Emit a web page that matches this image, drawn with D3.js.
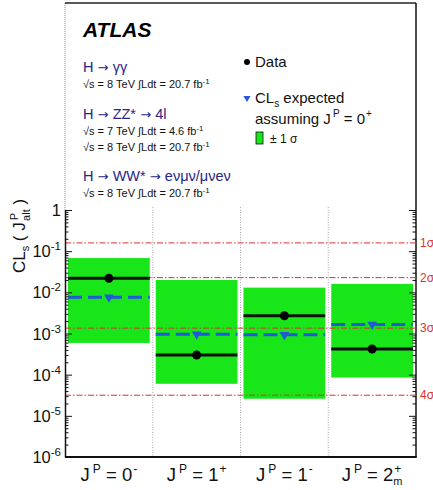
<!DOCTYPE html>
<html><head><meta charset="utf-8">
<script src="https://cdn.jsdelivr.net/npm/d3@7"></script>
<style>
body{margin:0;background:#fff;}
svg{display:block;font-family:"Liberation Sans",Arial,Helvetica,sans-serif;}
</style></head>
<body>
<svg id="c" width="433" height="490"></svg>
<script>
// ---- data ----
const categories = ["0-", "1+", "1-", "2m+"];
const catBase = ["0", "1", "1", "2"];
const catSup = ["-", "+", "-", "+"];
const catSub = ["", "", "", "m"];
const observed = [0.022, 3.0e-4, 2.7e-3, 4.2e-4];
const expected = [0.0076, 9.6e-4, 9.3e-4, 1.65e-3];
const bandHigh = [0.068, 0.020, 0.013, 0.016];
const bandLow = [5.9e-4, 6.0e-5, 2.6e-5, 8.5e-5];
const sigmaValues = [0.1587, 0.02275, 0.00135, 3.17e-5];
const sigmaLabels = ["1σ", "2σ", "3σ", "4σ"];
const yTickExp = [0, -1, -2, -3, -4, -5, -6];

const svg = d3.select("#c");
const L = 65, R = 416, T = 3, B = 457, Y1 = 210;
const x = d3.scaleBand().domain(categories).range([L, R]).padding(0);
const y = d3.scaleLog().domain([1e-6, 1]).range([B, Y1]);
const bw = x.bandwidth();

const GREEN = "#19e619", BLUE = "#2358d8", RED = "#e03030", NAVY = "#262688";

// frame
svg.append("line").attr("x1", L).attr("x2", L).attr("y1", T).attr("y2", Y1)
  .attr("stroke", "#888").attr("stroke-width", 1).attr("stroke-dasharray", "1,1");
svg.append("line").attr("x1", L).attr("x2", R).attr("y1", T).attr("y2", T)
  .attr("stroke", "#222").attr("stroke-width", 1.5);
svg.append("line").attr("x1", R).attr("x2", R).attr("y1", T).attr("y2", B)
  .attr("stroke", "#111").attr("stroke-width", 1.5);

// green bands
svg.selectAll("rect.band").data(categories).join("rect").attr("class", "band")
  .attr("x", d => x(d) + 3).attr("width", bw - 6)
  .attr("y", (d, i) => y(bandHigh[i]))
  .attr("height", (d, i) => y(bandLow[i]) - y(bandHigh[i]))
  .attr("fill", GREEN);

// separators
svg.selectAll("line.sep").data(categories.slice(1)).join("line").attr("class", "sep")
  .attr("x1", d => x(d)).attr("x2", d => x(d)).attr("y1", Y1 - 3).attr("y2", B)
  .attr("stroke", "#aaa").attr("stroke-width", 1).attr("stroke-dasharray", "1,1.5");

// sigma lines
svg.selectAll("line.sig").data(sigmaValues).join("line").attr("class", "sig")
  .attr("x1", L).attr("x2", R).attr("y1", d => y(d)).attr("y2", d => y(d))
  .attr("stroke", RED).attr("stroke-width", 1).attr("stroke-dasharray", "6,2,1.5,2");
svg.selectAll("text.sigl").data(sigmaValues).join("text").attr("class", "sigl")
  .attr("x", R + 4).attr("y", d => y(d) + 4).attr("fill", RED).attr("font-size", 12)
  .text((d, i) => sigmaLabels[i]);

// expected dashed
svg.selectAll("line.exp").data(categories).join("line").attr("class", "exp")
  .attr("x1", d => x(d) + 3).attr("x2", d => x(d) + bw - 3)
  .attr("y1", (d, i) => y(expected[i])).attr("y2", (d, i) => y(expected[i]))
  .attr("stroke", BLUE).attr("stroke-width", 3).attr("stroke-dasharray", "14,6");
svg.selectAll("path.expm").data(categories).join("path").attr("class", "expm")
  .attr("d", d3.symbol(d3.symbolTriangle, 40))
  .attr("transform", (d, i) => `translate(${x(d) + bw / 2},${y(expected[i])}) rotate(180)`)
  .attr("fill", BLUE);

// observed
svg.selectAll("line.obs").data(categories).join("line").attr("class", "obs")
  .attr("x1", d => x(d) + 3).attr("x2", d => x(d) + bw - 3)
  .attr("y1", (d, i) => y(observed[i])).attr("y2", (d, i) => y(observed[i]))
  .attr("stroke", "#111").attr("stroke-width", 3);
svg.selectAll("circle.obsm").data(categories).join("circle").attr("class", "obsm")
  .attr("cx", d => x(d) + bw / 2).attr("cy", (d, i) => y(observed[i])).attr("r", 4.5)
  .attr("fill", "#000");

// left axis
const allTicks = y.ticks();
const isMajor = v => Math.abs(Math.log10(v) - Math.round(Math.log10(v))) < 1e-6;
const gL = svg.append("g").attr("transform", `translate(${L},0)`)
  .call(d3.axisLeft(y).tickValues(allTicks).tickFormat("").tickSizeOuter(0)
    .tickSizeInner(0));
gL.select(".domain").attr("stroke", "#111").attr("stroke-width", 1.5);
gL.selectAll(".tick line").attr("x2", d => isMajor(d) ? 7 : 3.5).attr("stroke", "#111");
const gR = svg.append("g").attr("transform", `translate(${R},0)`)
  .call(d3.axisRight(y).tickValues(allTicks).tickFormat("").tickSizeOuter(0).tickSizeInner(0));
gR.select(".domain").remove();
gR.selectAll(".tick line").attr("x2", d => isMajor(d) ? -7 : -3.5).attr("stroke", "#111");
// bottom axis
svg.append("line").attr("x1", L).attr("x2", R + 0.75).attr("y1", B).attr("y2", B)
  .attr("stroke", "#111").attr("stroke-width", 2);

// y tick labels
yTickExp.forEach(e => {
  const t = svg.append("text").attr("x", L - 4).attr("y", y(Math.pow(10, e)) + 6)
    .attr("text-anchor", "end").attr("font-size", 16.5).attr("fill", "#111");
  if (e === 0) { t.text("1"); }
  else {
    t.append("tspan").text("10");
    t.append("tspan").attr("dy", -7).attr("font-size", 11.5).text(String(e));
  }
});

// y title
const yt = svg.append("text").attr("transform", `translate(25,236) rotate(-90)`)
  .attr("text-anchor", "middle").attr("font-size", 17).attr("fill", "#111");
yt.append("tspan").text("CL");
yt.append("tspan").attr("font-size", 11).attr("dy", 4).text("s");
yt.append("tspan").attr("dy", -4).text(" ( J");
yt.append("tspan").attr("font-size", 11).attr("dy", -7).attr("dx", 2).text("P");
yt.append("tspan").attr("font-size", 11).attr("dy", 12).attr("dx", -8).text("alt");
yt.append("tspan").attr("dy", -5).text(" )");

// x labels
categories.forEach((c, i) => {
  const t = svg.append("text").attr("x", x(c) + bw / 2).attr("y", 481)
    .attr("text-anchor", "middle").attr("font-size", 18.5).attr("fill", "#111");
  t.append("tspan").text("J");
  t.append("tspan").attr("font-size", 12).attr("dy", -8).attr("dx", 3).text("P");
  t.append("tspan").attr("dy", 8).text(" = " + catBase[i]);
  t.append("tspan").attr("font-size", 12).attr("dy", -8).attr("dx", 1).text(catSup[i]);
  if (catSub[i]) t.append("tspan").attr("font-size", 11).attr("dy", 12).attr("dx", -8).text(catSub[i]);
});

// ATLAS
svg.append("text").attr("x", 83).attr("y", 37).attr("font-size", 21)
  .attr("font-weight", "bold").attr("font-style", "italic").attr("fill", "#000").text("ATLAS");

// channel legend
function lumi(yy, energy, lum) {
  const t = svg.append("text").attr("x", 83).attr("y", yy).attr("font-size", 11).attr("fill", "#111");
  t.append("tspan").text(`√s = ${energy} TeV ∫Ldt = ${lum} fb`);
  t.append("tspan").attr("dy", -4).attr("font-size", 8).text("-1");
}
function chan(yy, parts) {
  const t = svg.append("text").attr("x", 83).attr("y", yy).attr("font-size", 14.5).attr("fill", NAVY);
  parts.forEach((p, k) => {
    if (k > 0) t.append("tspan").attr("font-family", "DejaVu Sans").attr("font-size", 13).text(" → ");
    t.append("tspan").text(p);
  });
}
chan(72, ["H", "γγ"]);
lumi(88, 8, "20.7");
chan(119, ["H", "ZZ*", "4l"]);
lumi(135, 7, "4.6");
lumi(151, 8, "20.7");
chan(181, ["H", "WW*", "eνμν/μνeν"]);
lumi(197, 8, "20.7");

// right legend
svg.append("circle").attr("cx", 247).attr("cy", 62).attr("r", 3).attr("fill", "#000");
svg.append("text").attr("x", 255).attr("y", 67).attr("font-size", 15).attr("fill", "#111").text("Data");
svg.append("path").attr("d", d3.symbol(d3.symbolTriangle, 22))
  .attr("transform", "translate(247,98) rotate(180)").attr("fill", BLUE);
const le = svg.append("text").attr("x", 255).attr("y", 103).attr("font-size", 15).attr("fill", "#111");
le.append("tspan").text("CL");
le.append("tspan").attr("font-size", 10).attr("dy", 4).text("s");
le.append("tspan").attr("dy", -4).text(" expected");
const la = svg.append("text").attr("x", 255).attr("y", 124).attr("font-size", 15).attr("fill", "#111");
la.append("tspan").text("assuming J");
la.append("tspan").attr("font-size", 10).attr("dy", -7).attr("dx", 2).text("P");
la.append("tspan").attr("dy", 7).text(" = 0");
la.append("tspan").attr("font-size", 10).attr("dy", -7).attr("dx", 1).text("+");
svg.append("rect").attr("x", 256).attr("y", 132).attr("width", 7).attr("height", 12)
  .attr("fill", GREEN).attr("stroke", "#111").attr("stroke-width", 0.8);
svg.append("text").attr("x", 270).attr("y", 143).attr("font-size", 12).attr("fill", "#111").text("± 1 σ");
</script>
</body></html>
